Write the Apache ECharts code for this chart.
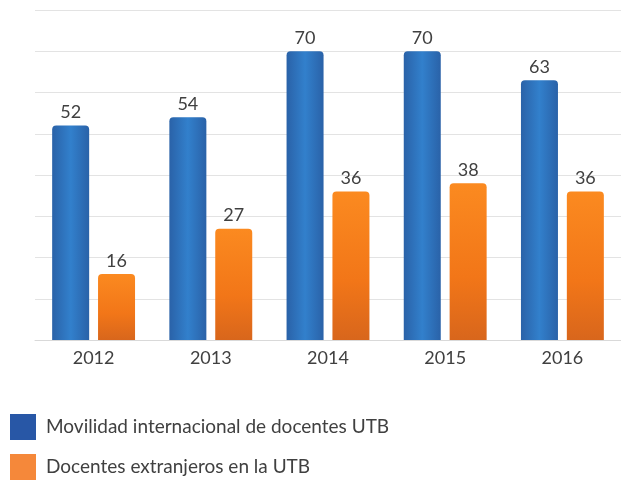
<!DOCTYPE html>
<html>
<head>
<meta charset="utf-8">
<script src="https://cdn.jsdelivr.net/npm/echarts@6/dist/echarts.min.js"></script>
<style>
  html, body { margin: 0; padding: 0; background: #fff; }
  #main { width: 621px; height: 482px; }
</style>
</head>
<body>
<div id="main"></div>
<script>
// datos del grafico
var years = ['2012', '2013', '2014', '2015', '2016'];
var movilidad = [52, 54, 70, 70, 63];
var extranjeros = [16, 27, 36, 38, 36];
var seriesNames = ['Movilidad internacional de docentes UTB', 'Docentes extranjeros en la UTB'];

var chart = echarts.init(document.getElementById('main'));

// degradados tipo cilindro
var blueFill = new echarts.graphic.LinearGradient(0, 0, 1, 0, [
  { offset: 0, color: '#2a62a8' },
  { offset: 0.5, color: '#3280cc' },
  { offset: 1, color: '#2a62a8' }
]);
var orangeFill = new echarts.graphic.LinearGradient(0, 0, 0, 1, [
  { offset: 0, color: '#fb8a20' },
  { offset: 0.6, color: '#f27618' },
  { offset: 1, color: '#d8661c' }
]);

var labelStyle = {
  show: true,
  position: 'top',
  distance: 4,
  color: '#404040',
  fontSize: 18,
  fontFamily: 'Lato'
};

chart.setOption({
  animation: false,
  grid: { left: 35, right: 0, top: 10, bottom: 142 },
  legend: {
    orient: 'vertical',
    left: 10,
    top: 414,
    padding: 0,
    itemWidth: 26,
    itemHeight: 26,
    itemGap: 14,
    icon: 'rect',
    textStyle: { color: '#404040', fontSize: 19, fontFamily: 'Lato', padding: [0, 0, 0, 5] },
    data: [
      { name: seriesNames[0], itemStyle: { color: '#2857a6' } },
      { name: seriesNames[1], itemStyle: { color: '#f5883a' } }
    ]
  },
  xAxis: {
    type: 'category',
    data: years,
    axisTick: { show: false },
    axisLine: { lineStyle: { color: '#d9d9d9' } },
    axisLabel: { color: '#404040', fontSize: 18, fontFamily: 'Lato', margin: 9 }
  },
  yAxis: {
    type: 'value',
    min: 0,
    max: 80,
    interval: 10,
    axisLabel: { show: false },
    axisLine: { show: false },
    axisTick: { show: false },
    splitLine: { lineStyle: { color: '#e3e3e3' } }
  },
  series: [
    {
      name: seriesNames[0],
      type: 'bar',
      data: movilidad,
      barWidth: 37,
      barGap: '24%',
      itemStyle: { color: blueFill, borderRadius: [4, 4, 0, 0] },
      label: labelStyle
    },
    {
      name: seriesNames[1],
      type: 'bar',
      data: extranjeros,
      barWidth: 37,
      itemStyle: { color: orangeFill, borderRadius: [4, 4, 0, 0] },
      label: labelStyle
    }
  ]
});
</script>
</body>
</html>
